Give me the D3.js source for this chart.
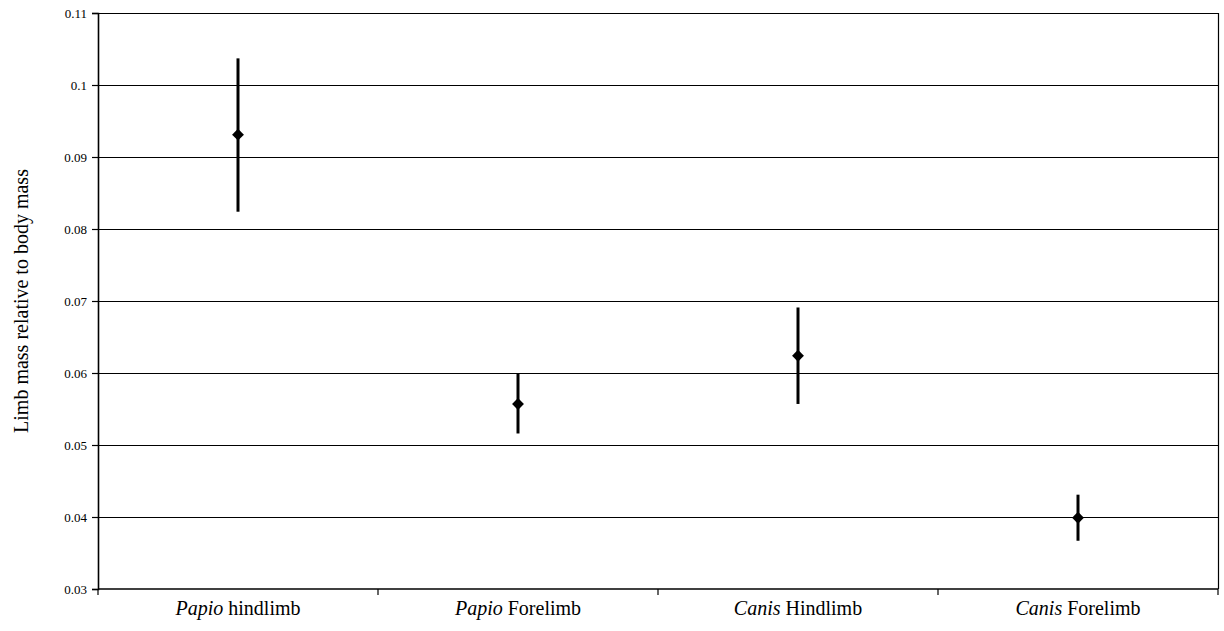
<!DOCTYPE html>
<html>
<head>
<meta charset="utf-8">
<script src="https://cdn.jsdelivr.net/npm/d3@7"></script>
<style>
  body { margin: 0; background: #fff; }
</style>
</head>
<body>
<div id="chart"></div>
<script>
// donnees
const genus = ["Papio", "Papio", "Canis", "Canis"];
const limb = ["hindlimb", "Forelimb", "Hindlimb", "Forelimb"];
const means = [0.0931, 0.0557, 0.0624, 0.0399];
const upper = [0.1037, 0.0599, 0.0691, 0.0431];
const lower = [0.0824, 0.0516, 0.0557, 0.0367];
const yTicks = [0.03, 0.04, 0.05, 0.06, 0.07, 0.08, 0.09, 0.1, 0.11];

const FONT = "'Liberation Serif', 'Times New Roman', Times, serif";
const W = 1224, H = 631;
const margin = {top: 13, right: 6, bottom: 42, left: 98};
const width = W - margin.left - margin.right;
const height = H - margin.top - margin.bottom;

const svg = d3.select("#chart").append("svg")
    .attr("width", W)
    .attr("height", H)
    .style("font-family", FONT);

const g = svg.append("g")
    .attr("transform", `translate(${margin.left},${margin.top})`);

const cats = d3.range(genus.length);
const x = d3.scaleBand().domain(cats).range([0, width]);
const y = d3.scaleLinear().domain([0.03, 0.11]).range([height, 0]);

// lignes de grille
g.selectAll(".grid").data(yTicks.slice(1)).enter().append("line")
    .attr("x1", 0).attr("x2", width)
    .attr("y1", d => Math.round(y(d)) + 0.5).attr("y2", d => Math.round(y(d)) + 0.5)
    .attr("stroke", "#000").attr("stroke-width", 1);

// bord droit
g.append("line")
    .attr("x1", width + 0.5).attr("x2", width + 0.5)
    .attr("y1", 0).attr("y2", height)
    .attr("stroke", "#000").attr("stroke-width", 1.2);

// axe Y
const axeY = d3.axisLeft(y).tickValues(yTicks).tickSize(6).tickPadding(5)
    .tickFormat(d => String(+d.toFixed(2)));
const gy = g.append("g").call(axeY).attr("font-family", FONT);
gy.select(".domain").attr("stroke-width", 1.6);
gy.selectAll(".tick line").attr("stroke-width", 1.2);
gy.selectAll("text").style("font-size", "13px").style("font-family", FONT).attr("fill", "#000");

// axe X (graduations aux limites des categories)
const bounds = d3.range(genus.length + 1).map(i => i * x.bandwidth());
g.append("line")
    .attr("x1", 0).attr("x2", width)
    .attr("y1", height).attr("y2", height)
    .attr("stroke", "#000").attr("stroke-width", 1.6);
g.selectAll(".xtick").data(bounds).enter().append("line")
    .attr("x1", d => d).attr("x2", d => d)
    .attr("y1", height).attr("y2", height + 6)
    .attr("stroke", "#000").attr("stroke-width", 1.2);

const lbl = g.selectAll(".xlab").data(cats).enter().append("text")
    .attr("x", d => x(d) + x.bandwidth() / 2)
    .attr("y", height + 26)
    .attr("text-anchor", "middle")
    .style("font-family", FONT)
    .style("font-size", "20px");
lbl.append("tspan").style("font-style", "italic").text(d => genus[d]);
lbl.append("tspan").text(d => " " + limb[d]);

// barres d'erreur
g.selectAll(".err").data(cats).enter().append("line")
    .attr("x1", d => x(d) + x.bandwidth() / 2).attr("x2", d => x(d) + x.bandwidth() / 2)
    .attr("y1", d => y(upper[d])).attr("y2", d => y(lower[d]))
    .attr("stroke", "#000").attr("stroke-width", 3);

// moyennes (losanges)
g.selectAll(".pt").data(cats).enter().append("path")
    .attr("d", d3.symbol().type(d3.symbolDiamond2).size(90))
    .attr("transform", d => `translate(${x(d) + x.bandwidth() / 2},${y(means[d])})`)
    .attr("fill", "#000");

// titre de l'axe Y
svg.append("text")
    .attr("transform", `translate(28,${margin.top + height / 2}) rotate(-90)`)
    .attr("text-anchor", "middle")
    .style("font-family", FONT)
    .style("font-size", "20px")
    .text("Limb mass relative to body mass");
</script>
</body>
</html>
